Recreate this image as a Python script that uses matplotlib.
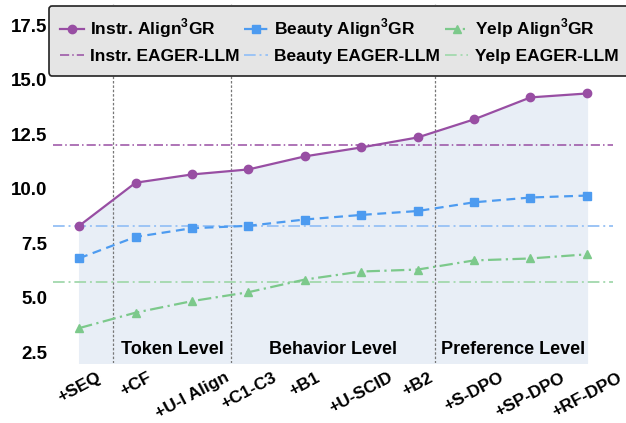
import numpy as np
import matplotlib
matplotlib.use("Agg")
import matplotlib.pyplot as plt

plt.rcParams['font.family'] = ['Liberation Sans', 'DejaVu Sans']
plt.rcParams['font.weight'] = 'bold'
plt.rcParams['mathtext.fontset'] = 'custom'
plt.rcParams['mathtext.bf'] = 'Liberation Sans:bold'
plt.rcParams['mathtext.rm'] = 'Liberation Sans:bold'

# data
steps = ['+SEQ', '+CF', '+U-I Align', '+C1-C3', '+B1', '+U-SCID', '+B2',
         '+S-DPO', '+SP-DPO', '+RF-DPO']
instr = [8.30, 10.28, 10.66, 10.89, 11.49, 11.90, 12.36, 13.19, 14.20, 14.38]
beauty = [6.81, 7.79, 8.19, 8.30, 8.59, 8.80, 8.98, 9.38, 9.60, 9.69]
yelp = [3.60, 4.31, 4.84, 5.25, 5.83, 6.20, 6.29, 6.71, 6.80, 6.99]
eager_instr = 12.0
eager_beauty = 8.29
eager_yelp = 5.70
stage_bounds = [0.6, 2.7, 6.3]
stage_names = ['Token Level', 'Behavior Level', 'Preference Level']
stage_pos = [1.65, 4.5, 7.7]

c_instr = '#984ea3'
c_beauty = '#4d9bf0'
c_yelp = '#7cc98b'

fig = plt.figure(figsize=(6.26, 4.23), dpi=100)
ax = fig.add_axes([0.085, 0.142, 0.894, 0.849])

x = np.arange(len(steps))
ymin, ymax = 2.0, 18.5

ax.fill_between(x, ymin, instr, color='#e8eef6', zorder=0)

for b in stage_bounds:
    ax.axvline(b, color='#777777', lw=0.9, ls=(0, (2, 1.5)), zorder=1)

h1 = ax.axhline(eager_instr, color=c_instr, lw=1.1, ls=(0, (6, 2, 1, 2)),
                label='Instr. EAGER-LLM', zorder=2)
h2 = ax.axhline(eager_beauty, color='#9cc4f5', lw=1.4, ls=(0, (6, 2, 1, 2)),
                label='Beauty EAGER-LLM', zorder=2)
h3 = ax.axhline(eager_yelp, color='#a8dab2', lw=1.4, ls=(0, (6, 2, 1, 2)),
                label='Yelp EAGER-LLM', zorder=2)

l1, = ax.plot(x, instr, color=c_instr, lw=1.6, marker='o', ms=6,
              label=r'Instr. Align$^{\mathbf{3}}$GR', zorder=3)
l2, = ax.plot(x, beauty, color=c_beauty, lw=1.6, ls=(0, (4, 2.5)), marker='s',
              ms=6, label=r'Beauty Align$^{\mathbf{3}}$GR', zorder=3)
l3, = ax.plot(x, yelp, color=c_yelp, lw=1.6, ls=(0, (6, 2, 1, 2)), marker='^',
              ms=6, label=r'Yelp Align$^{\mathbf{3}}$GR', zorder=3)

for name, p in zip(stage_names, stage_pos):
    ax.text(p, 2.6, name, ha='center', va='center', fontsize=13,
            fontweight='bold', zorder=4)

ax.set_xlim(-0.46, 9.46)
ax.set_ylim(ymin, ymax)
ax.set_xticks(x)
ax.set_xticklabels(steps, rotation=28, ha='center', fontsize=12.5,
                   fontweight='bold')
ax.set_yticks([2.5, 5.0, 7.5, 10.0, 12.5, 15.0, 17.5])
ax.set_yticklabels(['2.5', '5.0', '7.5', '10.0', '12.5', '15.0', '17.5'],
                   fontsize=13.5, fontweight='bold')
ax.tick_params(axis='y', length=0, pad=4)
ax.tick_params(axis='x', length=0, pad=5)
for s in ax.spines.values():
    s.set_visible(False)

leg = ax.legend(handles=[l1, h1, l2, h2, l3, h3], ncol=3, loc='upper center',
                bbox_to_anchor=(0.511, 1.0), fontsize=12.5, frameon=True,
                fancybox=True, facecolor='#e5e5e5', edgecolor='#222222',
                framealpha=1.0, handlelength=1.35, handletextpad=0.35,
                columnspacing=0.3, labelspacing=0.5, borderpad=0.65,
                borderaxespad=0.1)
leg.get_frame().set_linewidth(1.2)
leg.set_zorder(5)

fig.savefig('out.png', dpi=100)
